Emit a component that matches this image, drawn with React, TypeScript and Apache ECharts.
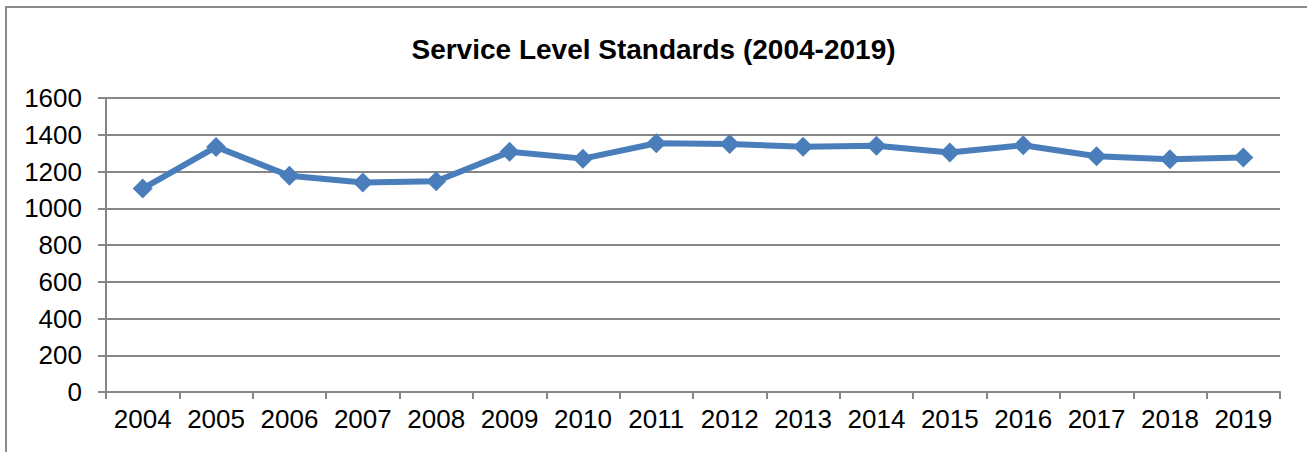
import React, { useEffect, useRef } from "react";
import * as echarts from "echarts";

const years = ["2004","2005","2006","2007","2008","2009","2010","2011","2012","2013","2014","2015","2016","2017","2018","2019"];
const values = [1107, 1334, 1177, 1140, 1147, 1307, 1270, 1354, 1350, 1335, 1340, 1304, 1343, 1283, 1267, 1276];
const titleText = "Service Level Standards (2004-2019)";

export default function App() {
  const ref = useRef<HTMLDivElement>(null);
  useEffect(() => {
    const chart = echarts.init(ref.current!, undefined, { renderer: "svg" });
    chart.setOption({
      animation: false,
      backgroundColor: "#ffffff",
      title: {
        text: titleText,
        left: "center",
        top: 30,
        textStyle: { fontFamily: "Liberation Sans", fontWeight: "bold", fontSize: 28, color: "#000" },
      },
      graphic: [
        {
          type: "rect",
          shape: { x: 6, y: 7, width: 1320, height: 480 },
          style: { fill: "none", stroke: "#8a8a8a", lineWidth: 2 },
          silent: true,
        },
      ],
      grid: { left: 106, right: 27, top: 98, bottom: 60 },
      xAxis: {
        type: "category",
        data: years,
        boundaryGap: true,
        axisLine: { lineStyle: { color: "#868686", width: 2 } },
        axisTick: { show: true, length: 7, interval: 0, lineStyle: { color: "#868686", width: 2 } },
        axisLabel: { interval: 0, hideOverlap: false, fontFamily: "Liberation Sans", fontSize: 26, color: "#000", margin: 14 },
      },
      yAxis: {
        type: "value",
        min: 0,
        max: 1600,
        interval: 200,
        axisLine: { show: true, lineStyle: { color: "#868686", width: 2 } },
        axisTick: { show: true, length: 8, lineStyle: { color: "#868686", width: 2 } },
        splitLine: { lineStyle: { color: "#868686", width: 2 } },
        axisLabel: { fontFamily: "Liberation Sans", fontSize: 26, color: "#000", margin: 24, formatter: (v: number) => String(v) },
      },
      series: [
        {
          type: "line",
          data: values,
          symbol: "diamond",
          symbolSize: 20,
          lineStyle: { color: "#4a7ebb", width: 6 },
          itemStyle: { color: "#4a7ebb" },
        },
      ],
    });
    return () => chart.dispose();
  }, []);
  return <div ref={ref} style={{ position: "fixed", left: 0, top: 0, width: 1307, height: 452 }} />;
}
